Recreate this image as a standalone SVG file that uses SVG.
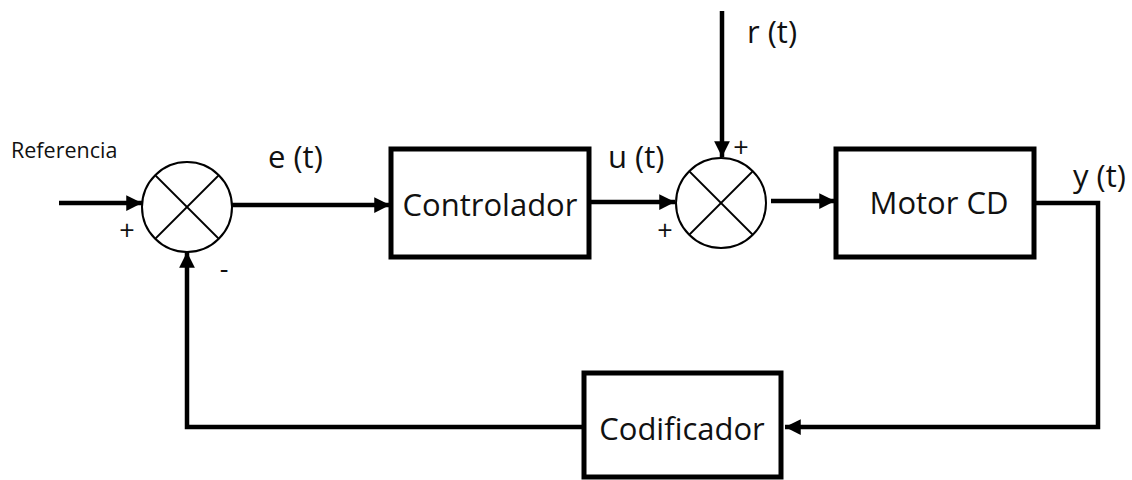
<svg xmlns="http://www.w3.org/2000/svg" width="1132" height="480" viewBox="0 0 1132 480">
<style>
.box{fill:#fff;stroke:#000;stroke-width:5}
.sum{fill:#fff;stroke:#000;stroke-width:2}
.x{stroke:#000;stroke-width:1.8}
.wire{fill:none;stroke:#000;stroke-width:4.5}
.t{font-family:"Open Sans","Liberation Sans",sans-serif;fill:#111}
.lbl{font-size:31px}
.sg{font-size:27px}
</style>
<defs>
<marker id="ah" viewBox="0 0 10 10" refX="10" refY="5" markerWidth="3.6" markerHeight="3.5" markerUnits="strokeWidth" orient="auto">
<path d="M0,0 L10,5 L0,10 Z" fill="#000"/>
</marker>
</defs>
<rect width="1132" height="480" fill="#fff"/>
<g id="connectors">
<line class="wire" x1="59" y1="203" x2="142" y2="203" marker-end="url(#ah)"/>
<line class="wire" x1="232" y1="205" x2="390" y2="205" marker-end="url(#ah)"/>
<line class="wire" x1="590" y1="202" x2="675" y2="202" marker-end="url(#ah)"/>
<line class="wire" x1="722" y1="11" x2="722" y2="157" marker-end="url(#ah)"/>
<line class="wire" x1="771" y1="201" x2="835" y2="201" marker-end="url(#ah)"/>
<polyline class="wire" points="1035,203 1098,203 1098,427 785,427" marker-end="url(#ah)"/>
<polyline class="wire" points="584,427 187,427 187,252" marker-end="url(#ah)"/>
</g>
<g id="sum1">
<circle class="sum" cx="187" cy="207" r="45"/>
<line class="x" x1="155" y1="175" x2="219" y2="239"/>
<line class="x" x1="219" y1="175" x2="155" y2="239"/>
<text class="t sg" x="127" y="240" text-anchor="middle">+</text>
<text class="t sg" x="224" y="278" text-anchor="middle">-</text>
</g>
<g id="controlador">
<rect class="box" x="391" y="149" width="198" height="108"/>
<text class="t lbl" x="490" y="216" text-anchor="middle">Controlador</text>
</g>
<g id="sum2">
<circle class="sum" cx="721" cy="203" r="45"/>
<line class="x" x1="689" y1="171" x2="753" y2="235"/>
<line class="x" x1="753" y1="171" x2="689" y2="235"/>
<text class="t sg" x="741" y="157" text-anchor="middle">+</text>
<text class="t sg" x="665" y="240" text-anchor="middle">+</text>
</g>
<g id="motor">
<rect class="box" x="836" y="149" width="198" height="108"/>
<text class="t lbl" x="939" y="214" text-anchor="middle">Motor CD</text>
</g>
<g id="codificador">
<rect class="box" x="584" y="373" width="197" height="104"/>
<text class="t lbl" x="682" y="440" text-anchor="middle">Codificador</text>
</g>
<g id="labels">
<text class="t" font-size="21.5" x="11" y="158">Referencia</text>
<text class="t lbl" x="268" y="168">e (t)</text>
<text class="t lbl" x="608" y="168">u (t)</text>
<text class="t lbl" x="747" y="43">r (t)</text>
<text class="t lbl" x="1073" y="187">y (t)</text>
</g>
</svg>
